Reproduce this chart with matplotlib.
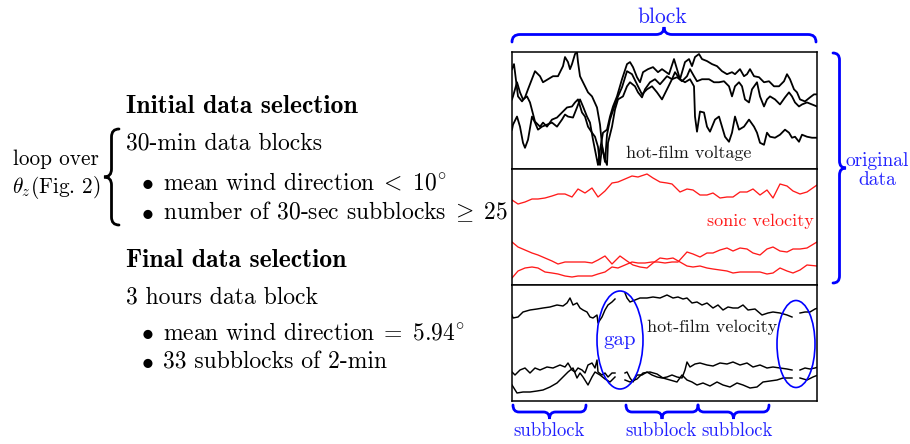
import numpy as np
import matplotlib
matplotlib.use("Agg")
import matplotlib.pyplot as plt
from matplotlib.path import Path
from matplotlib.patches import PathPatch, Ellipse

plt.rcParams['mathtext.fontset'] = 'cm'
plt.rcParams['font.family'] = ['cmr10', 'DejaVu Serif']
plt.rcParams['axes.unicode_minus'] = False
plt.rcParams['axes.formatter.use_mathtext'] = True

# ---------------- data (time index, signal level) ----------------
voltage_a = [(0,99),(2,104),(6,72),(10,67),(13,71),(16,79),(23,97),(28,92),(31,86),(36,89),(41,92),(46,92),
             (51,102),(53,111),(56,106),(58,99),(60,104),(63,114),(65,116),(66,106),(68,92),(72,84),(76,76),
             (80,72),(85,61),(88,44),(90,24),(93,7),(95,34),(98,49),(102,61),(106,72),(110,81),(115,97),
             (120,94),(125,84),(130,74),(135,79),(140,82),(145,76),(150,69),(155,79),(160,89),(163,96),
             (168,89),(173,86),(178,89),(182,82),(183,52),(185,37),(188,57),(192,56),(195,42),(198,37),
             (203,49),(207,52),(210,42),(213,32),(217,27),(220,36),(223,52),(227,39),(232,42),(237,49),
             (242,42),(245,36),(248,26),(252,24),(255,36),(258,32),(263,31),(268,34),(273,39),(277,36),
             (280,31),(283,32),(287,27),(290,34),(295,32),(300,31),(305,31)]
voltage_b = [(0,69),(1,72),(5,86),(8,76),(11,69),(15,72),(18,66),(23,47),(28,42),(31,46),(35,42),(40,49),
             (45,51),(50,56),(55,61),(60,62),(63,66),(66,69),(70,56),(73,52),(76,42),(80,36),(83,32),(86,22),
             (88,4),(90,22),(93,9),(95,4),(96,26),(100,42),(103,59),(106,69),(111,72),(115,82),(118,86),
             (123,82),(126,76),(130,71),(133,79),(138,86),(143,89),(148,84),(155,92),(160,89),(165,91),
             (170,87),(175,92),(178,99),(182,92),(185,87),(190,89),(197,89),(202,86),(207,86),(212,87),
             (217,82),(220,72),(223,82),(227,86),(230,82),(233,69),(237,66),(240,79),(245,86),(248,72),
             (252,62),(255,69),(258,72),(263,69),(268,64),(273,71),(277,76),(280,72),(283,66),(287,62),
             (290,64),(295,66),(300,64),(305,62)]
voltage_c = [(0,39),(1,44),(5,52),(8,42),(11,26),(13,21),(16,29),(20,52),(23,46),(26,39),(30,42),(35,44),
             (40,46),(45,42),(50,49),(53,54),(56,52),(61,51),(65,61),(68,69),(71,62),(75,52),(78,46),(81,29),
             (85,9),(86,4),(88,19),(91,36),(95,39),(98,52),(101,62),(105,72),(110,89),(115,104),(118,106),
             (121,101),(125,91),(128,86),(131,96),(136,99),(141,101),(146,96),(150,99),(157,94),(162,109),
             (165,99),(168,89),(173,106),(177,109),(180,102),(183,111),(187,114),(190,109),(195,107),
             (200,104),(205,102),(210,97),(215,94),(220,96),(223,94),(228,99),(232,92),(235,94),(238,99),
             (242,92),(247,91),(252,86),(257,87),(262,82),(267,82),(272,87),(275,94),(278,89),(282,79),
             (285,76),(288,69),(293,67),(298,71),(302,74),(305,74)]

sonic_a = [(0,85),(6,81),(13,83),(20,86),(26,86),(33,87),(40,89),(46,91),(53,91),(60,88),(66,96),(73,92),
           (80,97),(86,88),(93,94),(100,102),(106,103),(113,106),(120,109),(126,108),(135,111),(141,107),
           (148,103),(155,102),(160,101),(168,93),(175,96),(181,95),(188,90),(195,90),(201,92),(208,87),
           (215,88),(221,88),(228,93),(235,93),(241,96),(248,90),(255,95),(261,87),(268,101),(275,99),
           (281,94),(288,91),(295,93),(305,100)]
sonic_b = [(0,43),(6,38),(13,35),(20,32),(26,30),(33,27),(40,24),(46,21),(53,23),(60,23),(66,23),(73,23),
           (80,22),(86,25),(93,29),(100,21),(108,29),(115,24),(121,20),(128,18),(135,17),(141,22),(148,27),
           (155,26),(161,27),(168,23),(175,19),(181,18),(188,19),(195,17),(201,16),(208,15),(215,14),
           (221,12),(228,13),(235,13),(241,13),(248,13),(255,11),(261,12),(268,17),(275,14),(281,12),
           (288,15),(295,20),(305,19)]
sonic_c = [(0,7),(6,14),(13,17),(20,18),(26,17),(33,13),(40,12),(46,11),(53,9),(60,8),(66,9),(73,9),(80,9),
           (86,11),(93,13),(100,18),(106,17),(113,20),(120,23),(126,22),(133,22),(140,23),(146,23),(153,22),
           (160,23),(166,23),(175,33),(181,31),(188,28),(195,32),(201,32),(208,35),(215,37),(221,34),
           (228,37),(235,36),(241,32),(248,30),(255,36),(261,38),(268,34),(275,33),(281,36),(288,36),
           (295,37),(305,43)]

NA = float('nan')
velocity_a = [(0,86),(1,83),(6,84),(11,89),(18,91),(25,92),(31,93),(38,94),(45,96),(51,95),(55,98),(58,103),
              (61,96),(65,98),(68,93),(71,91),(75,89),(78,84),(81,83),(85,86),(86,78),(90,84),(93,91),(96,96),
              (100,99),(103,102),(108,NA),(113,108),(115,103),(118,99),(123,101),(128,103),(135,103),
              (141,104),(148,103),(155,106),(161,103),(166,104),(171,102),(175,103),(180,98),(185,99),
              (190,96),(195,98),(201,93),(206,96),(211,91),(216,94),(221,93),(226,93),(231,96),(236,91),
              (243,92),(250,86),(256,88),(261,89),(268,88),(275,86),(280,84),(284,NA),(288,88),(293,89),
              (298,89),(303,92),(306,93)]
velocity_b = [(0,29),(3,26),(8,31),(13,33),(18,28),(23,33),(28,31),(35,34),(41,33),(48,36),(53,34),(56,38),
              (60,31),(63,29),(66,33),(70,31),(73,28),(76,36),(80,38),(83,33),(85,41),(86,29),(90,26),(93,28),
              (96,24),(100,28),(103,28),(108,NA),(113,28),(115,29),(118,23),(121,19),(125,26),(130,26),
              (135,29),(140,26),(145,24),(150,23),(155,24),(160,26),(165,24),(170,23),(173,31),(175,39),
              (178,34),(183,37),(188,38),(195,36),(201,35),(208,38),(215,37),(221,39),(228,36),(235,38),
              (241,34),(248,36),(255,33),(261,34),(268,33),(275,32),(280,31),(284,NA),(288,31),(293,33),
              (298,32),(303,33),(306,34)]
velocity_c = [(0,16),(5,8),(11,9),(18,9),(25,10),(31,11),(38,14),(45,18),(51,24),(56,29),(61,33),(65,23),
              (68,28),(71,24),(76,16),(80,24),(83,29),(88,26),(93,22),(98,19),(103,24),(108,NA),(113,21),
              (118,19),(125,22),(131,28),(138,29),(145,27),(151,23),(158,21),(165,19),(170,26),(175,21),
              (180,19),(185,16),(191,18),(198,15),(205,19),(211,16),(218,14),(225,18),(231,16),(238,13),
              (245,14),(251,19),(258,20),(265,21),(271,23),(280,23),(284,NA),(288,23),(295,21),(301,24),
              (306,26)]

gap_marks = [(108, 61, 46, 98), (284, 57, 38, 87)]   # centre t, centre level, width, height

voltage_lines = [voltage_a, voltage_b, voltage_c]
sonic_lines = [sonic_a, sonic_b, sonic_c]
velocity_lines = [velocity_a, velocity_b, velocity_c]

BLUE = '#0000ff'
BLUE_TXT = '#2222ff'
W, H = 910, 444

fig = plt.figure(figsize=(9.1, 4.44), dpi=100)

def panel(top, bottom):
    return fig.add_axes([512 / W, 1 - bottom / H, 305 / W, (bottom - top) / H])

axes = [panel(52, 169), panel(169, 285), panel(285, 401)]
for ax in axes:
    ax.set_xlim(0, 305)
    ax.set_ylim(0, 116)
    ax.set_xticks([])
    ax.set_yticks([])
    for s in ax.spines.values():
        s.set_linewidth(1.1)
        s.set_color('black')

def draw(ax, lines, color, lw):
    for ln in lines:
        t, v = zip(*ln)
        ax.plot(t, v, color=color, lw=lw, solid_joinstyle='round')

draw(axes[0], voltage_lines, 'black', 1.3)
draw(axes[1], sonic_lines, '#ff1a1a', 0.95)
draw(axes[2], velocity_lines, 'black', 1.05)

for (ct, cv, w, h) in gap_marks:
    axes[2].add_patch(Ellipse((ct, cv), w, h, fill=False, ec=BLUE, lw=1.2, zorder=5))

axes[0].text(177, 11, 'hot-film voltage', ha='center', va='baseline', fontsize=13, color='#1a1a1a')
axes[1].text(248, 59, 'sonic velocity', ha='center', va='baseline', fontsize=13, color='#ff1a1a')
axes[2].text(200, 69, 'hot-film velocity', ha='center', va='baseline', fontsize=13, color='#1a1a1a')
axes[2].text(108, 56, 'gap', ha='center', va='baseline', fontsize=15, color=BLUE_TXT, zorder=6)

# overlay in pixel coordinates
ov = fig.add_axes([0, 0, 1, 1], facecolor='none')
ov.set_xlim(0, W)
ov.set_ylim(H, 0)
ov.axis('off')

def brace(p0, p1, n, h, r, lw=2.0, color=BLUE):
    p0 = np.array(p0, float); p1 = np.array(p1, float); n = np.array(n, float)
    L = np.linalg.norm(p1 - p0); a = (p1 - p0) / L
    P = lambda u, w: p0 + u * a + w * n
    m = L / 2
    verts = [P(0, 0), P(0, h / 2), P(r, h / 2), P(m - r, h / 2), P(m, h / 2), P(m, h),
             P(m, h / 2), P(m + r, h / 2), P(L - r, h / 2), P(L, h / 2), P(L, 0)]
    codes = [Path.MOVETO, Path.CURVE3, Path.CURVE3, Path.LINETO, Path.CURVE3, Path.CURVE3,
             Path.CURVE3, Path.CURVE3, Path.LINETO, Path.CURVE3, Path.CURVE3]
    ov.add_patch(PathPatch(Path(verts, codes), fill=False, ec=color, lw=lw, capstyle='round'))

brace((512, 42), (816, 42), (0, -1), 15, 8)
ov.text(662, 23, 'block', ha='center', va='baseline', fontsize=15.5, color=BLUE_TXT)

brace((833, 53), (833, 283), (1, 0), 13, 7)
ov.text(877, 166, 'original', ha='center', va='baseline', fontsize=14, color=BLUE_TXT)
ov.text(877, 185, 'data', ha='center', va='baseline', fontsize=14, color=BLUE_TXT)

for (x0, x1, xc) in [(513, 586, 549), (626, 698, 661), (698, 769, 737)]:
    brace((x0, 405), (x1, 405), (0, 1), 14, 6)
    ov.text(xc, 436, 'subblock', ha='center', va='baseline', fontsize=13.5, color=BLUE_TXT)

brace((119, 129), (119, 225), (-1, 0), 15, 8, lw=2.0, color='black')
ov.text(56, 165, 'loop over', ha='center', va='baseline', fontsize=15.3)
ov.text(56, 193, r'$\theta_z(\mathrm{Fig.\,2})$', ha='center', va='baseline', fontsize=15.3)

FS = 17
FB = 18.5
ov.text(126, 113, 'Initial data selection', fontfamily='cmb10', fontsize=FB, va='baseline')
ov.text(126, 149, '30-min data blocks', fontsize=FS, va='baseline')
ov.text(147, 189, r'$\bullet$', fontsize=FS, va='baseline', ha='center')
ov.text(163, 189, r'mean wind direction$\;<\;10^{\!\circ}$', fontsize=FS, va='baseline')
ov.text(147, 219, r'$\bullet$', fontsize=FS, va='baseline', ha='center')
ov.text(163, 219, r'number of 30-sec subblocks$\;\geq\;25$', fontsize=FS, va='baseline')
ov.text(126, 267, 'Final data selection', fontfamily='cmb10', fontsize=FB, va='baseline')
ov.text(126, 303, '3 hours data block', fontsize=FS, va='baseline')
ov.text(147, 339, r'$\bullet$', fontsize=FS, va='baseline', ha='center')
ov.text(163, 339, r'mean wind direction$\;=\;5.94^{\!\circ}$', fontsize=FS, va='baseline')
ov.text(147, 368, r'$\bullet$', fontsize=FS, va='baseline', ha='center')
ov.text(163, 368, '33 subblocks of 2-min', fontsize=FS, va='baseline')

fig.savefig('out.png', dpi=100)
